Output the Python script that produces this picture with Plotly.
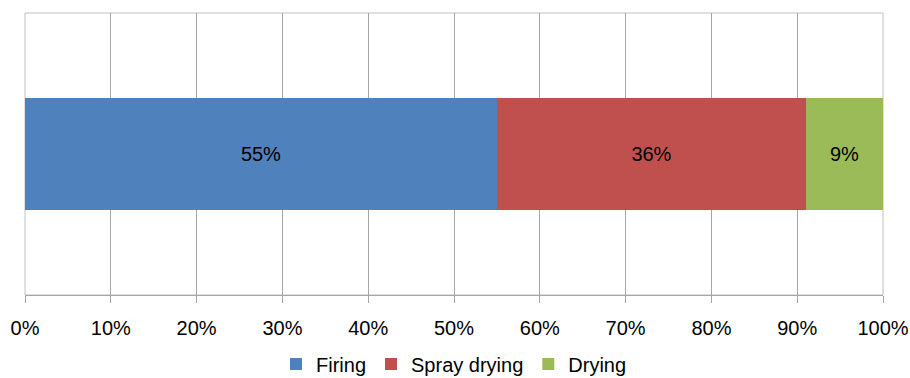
import plotly.graph_objects as go

categories = [""]
series_names = ["Firing", "Spray drying", "Drying"]
series_values = [55, 36, 9]
series_colors = ["#4F81BD", "#C0504D", "#9BBB59"]
tick_vals = [0, 10, 20, 30, 40, 50, 60, 70, 80, 90, 100]
tick_text = [f"{v}%" for v in tick_vals]

fig = go.Figure()
for name, val, col in zip(series_names, series_values, series_colors):
    fig.add_trace(go.Bar(
        y=categories, x=[val], name=name, orientation="h",
        marker=dict(color=col, line=dict(width=0)),
        text=[f"{val}%"], textposition="inside", insidetextanchor="middle",
        textfont=dict(color="black", size=20, family="Liberation Sans, Arial"),
        width=0.4,
    ))

fig.update_layout(
    barmode="stack",
    width=910, height=378,
    margin=dict(l=25, r=27, t=13, b=83, autoexpand=False),
    paper_bgcolor="white", plot_bgcolor="white",
    font=dict(family="Liberation Sans, Arial", size=20, color="black"),
    showlegend=True,
    legend=dict(orientation="h", x=0.5, xanchor="center", y=-0.245, yanchor="middle",
                font=dict(size=20), traceorder="normal", itemwidth=30,
                borderwidth=0),
    xaxis=dict(range=[0, 100], tickvals=tick_vals, ticktext=tick_text,
               showgrid=True, gridcolor="#A6A6A6", gridwidth=1,
               showline=True, linecolor="#A6A6A6", linewidth=1, mirror=False,
               ticks="outside", ticklen=7, tickcolor="#A6A6A6",
               ticklabelstandoff=8, automargin=False,
               zeroline=False, tickfont=dict(size=20)),
    yaxis=dict(range=[-0.5, 0.5], showticklabels=False, showgrid=False,
               zeroline=False, showline=False, automargin=False),
    shapes=[dict(type="rect", xref="paper", yref="paper", x0=0, x1=1, y0=0, y1=1,
                 line=dict(color="#C0C0C0", width=1), layer="below")],
    bargap=0,
)

fig.write_html("out.html")
